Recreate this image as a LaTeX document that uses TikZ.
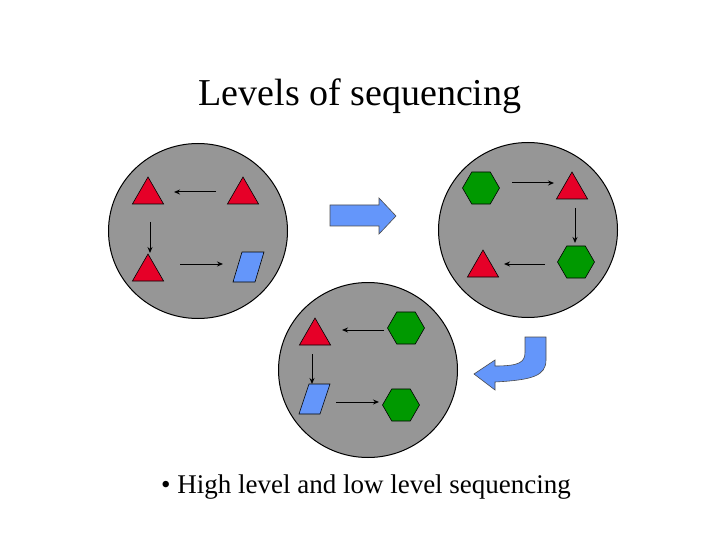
\documentclass[tikz,border=0pt]{standalone}
\usepackage{fontspec}
\setmainfont{Liberation Serif}
\usetikzlibrary{shapes.geometric,arrows.meta}
\definecolor{grayc}{RGB}{150,150,150}
\definecolor{redc}{RGB}{230,0,40}
\definecolor{greenc}{RGB}{0,153,0}
\definecolor{bluec}{RGB}{100,150,250}
\begin{document}
\begin{tikzpicture}[x=1pt,y=-1pt,
  circ/.style={ellipse,draw=black,line width=1pt,fill=grayc,minimum width=179pt,minimum height=175pt},
  tri/.style={regular polygon,regular polygon sides=3,draw=black,fill=redc,minimum size=36pt,inner sep=0pt,line width=0.6pt},
  hex/.style={regular polygon,regular polygon sides=6,draw=black,fill=greenc,minimum size=37pt,inner sep=0pt,line width=0.6pt},
  para/.style={draw=black,fill=bluec,line width=0.6pt},
  link/.style={-{Stealth[length=6pt,width=5pt]},line width=1pt},
  big/.style={draw=black!70,fill=bluec,line width=0.6pt}]
\useasboundingbox (0,0) rectangle (720,540);
\node (title) at (360,96) {\fontsize{38}{40}\selectfont Levels of sequencing};
\node (c1) at (198,231) [circ] {};
\node (c2) at (528,230) [circ] {};
\node (c3) at (368,370) [circ] {};
% circle 1
\node (a1) at (148,195) [tri] {};
\node (a2) at (243,195) [tri] {};
\node (a3) at (148,272) [tri] {};
\draw[para] (233,282) -- (255,282) -- (264,252) -- (242,252) -- cycle;
\draw[link] (216,192) -- (174,192);
\draw[link] (150,222) -- (150,253);
\draw[link] (180,264) -- (223,264);
% circle 2
\node (b1) at (481,188) [hex] {};
\node (b2) at (572,190) [tri] {};
\node (b3) at (576,262) [hex] {};
\node (b4) at (483,268) [tri] {};
\draw[link] (512,183) -- (554,183);
\draw[link] (575,208) -- (575,243);
\draw[link] (545,264) -- (504,264);
% circle 3
\node (d1) at (315,336) [tri] {};
\node (d2) at (406,328) [hex] {};
\draw[para] (299,414) -- (320,414) -- (330,384) -- (309,384) -- cycle;
\node (d4) at (401,405) [hex] {};
\draw[link] (384,330) -- (342,330);
\draw[link] (312,354) -- (312,384);
\draw[link] (336,402) -- (379,402);
% block arrows
\draw[big] (330,205) -- (379,205) -- (379,198) -- (396,216) -- (379,234) -- (379,226) -- (330,226) -- cycle;
\draw[big] (525,337) -- (546,337) -- (546,360) .. controls (546,376) and (532,380) .. (495,382)
  -- (495,390) -- (474,374) -- (495,360) -- (495,366) .. controls (520,366) and (525,362) .. (525,352) -- cycle;
\node (bul) at (366,487) {\fontsize{27}{30}\selectfont \textbullet\ High level and low level sequencing};
\end{tikzpicture}
\end{document}
